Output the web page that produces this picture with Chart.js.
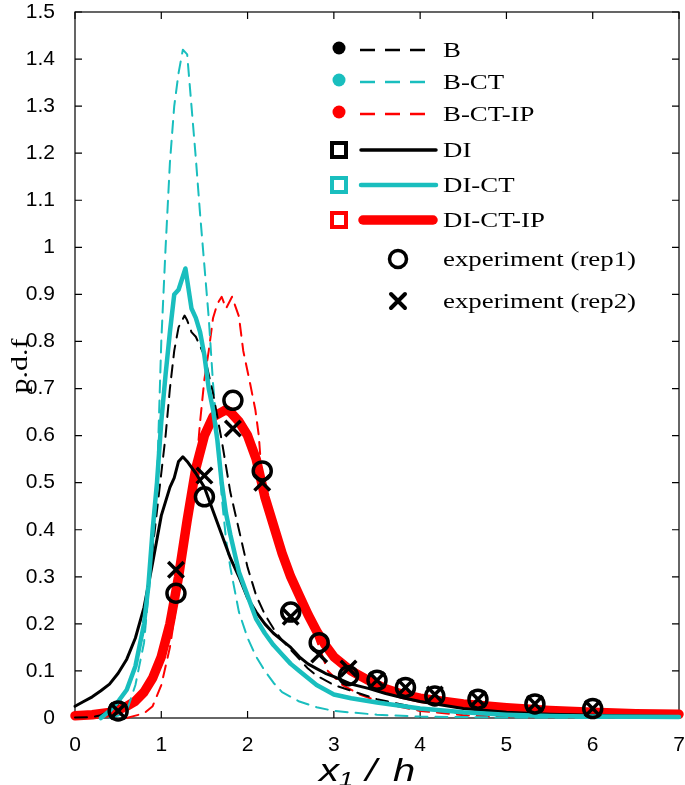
<!DOCTYPE html>
<html>
<head>
<meta charset="utf-8">
<script src="https://cdn.jsdelivr.net/npm/chart.js@4/dist/chart.umd.min.js"></script>
<style>
html,body{margin:0;padding:0;background:#fff;}
#wrap{width:685px;height:785px;position:relative;}
</style>
</head>
<body>
<div id="wrap"><canvas id="c" width="685" height="785"></canvas></div>
<script>
// ---------- data ----------
const xTicks = [0,1,2,3,4,5,6,7];
const xTickLabels = ['0','1','2','3','4','5','6','7'];
const yTicks = [0,0.1,0.2,0.3,0.4,0.5,0.6,0.7,0.8,0.9,1,1.1,1.2,1.3,1.4,1.5];
const yTickLabels = ['0','0.1','0.2','0.3','0.4','0.5','0.6','0.7','0.8','0.9','1','1.1','1.2','1.3','1.4','1.5'];

const bX = [0,0.2,0.3,0.4,0.5,0.6,0.7,0.8,0.9,1.0,1.05,1.1,1.15,1.2,1.27,1.3,1.35,1.4,1.5,1.6,1.7,1.8,1.9,2.0,2.1,2.2,2.3,2.4,2.5,2.6,2.7,2.8,3.0,3.5,4.0,4.5,5.0,6.0,7.0];
const bY = [0.001,0.002,0.006,0.015,0.03,0.06,0.11,0.19,0.36,0.52,0.6,0.7,0.78,0.83,0.855,0.845,0.82,0.81,0.77,0.69,0.59,0.48,0.4,0.32,0.26,0.22,0.19,0.165,0.145,0.125,0.105,0.09,0.07,0.04,0.02,0.01,0.006,0.003,0.001];

const bctX = [0.4,0.5,0.6,0.7,0.8,0.9,0.95,1.0,1.05,1.1,1.15,1.2,1.25,1.3,1.35,1.4,1.45,1.5,1.55,1.6,1.65,1.7,1.75,1.8,1.9,2.0,2.1,2.2,2.3,2.4,2.5,2.6,2.8,3.0,3.5,4.0,5.0,6.0,7.0];
const bctY = [0,0.005,0.015,0.07,0.16,0.36,0.5,0.8,1.0,1.18,1.3,1.37,1.42,1.41,1.3,1.19,1.07,0.96,0.85,0.71,0.6,0.47,0.38,0.32,0.225,0.17,0.13,0.1,0.075,0.055,0.045,0.035,0.023,0.015,0.007,0.003,0.001,0,0];

const bctipX = [0.6,0.7,0.8,0.9,1.0,1.1,1.2,1.3,1.4,1.45,1.5,1.55,1.6,1.65,1.7,1.75,1.82,1.9,1.95,2.03,2.09,2.13,2.17,2.25,2.35,2.45,2.55,2.65,2.8,2.93,3.1,3.3,3.6,4.0,4.5,5.0,6.0,7.0];
const bctipY = [0,0.005,0.01,0.025,0.07,0.15,0.27,0.4,0.52,0.63,0.72,0.78,0.85,0.88,0.895,0.87,0.895,0.853,0.78,0.71,0.655,0.6,0.5,0.44,0.38,0.33,0.29,0.24,0.166,0.1,0.07,0.05,0.03,0.015,0.006,0.002,0.001,0];

const diX = [0,0.1,0.2,0.3,0.4,0.5,0.6,0.7,0.8,0.9,1.0,1.1,1.15,1.2,1.25,1.3,1.4,1.5,1.6,1.7,1.8,1.9,2.0,2.1,2.2,2.3,2.4,2.5,2.6,2.7,2.8,2.9,3.0,3.2,3.4,3.6,3.8,4.0,4.5,5.0,5.5,6.0,6.5,7.0];
const diY = [0.025,0.035,0.045,0.058,0.072,0.095,0.125,0.17,0.235,0.33,0.43,0.49,0.51,0.545,0.555,0.545,0.52,0.49,0.44,0.39,0.34,0.3,0.255,0.225,0.2,0.18,0.165,0.15,0.13,0.115,0.105,0.095,0.088,0.072,0.063,0.052,0.043,0.035,0.02,0.012,0.008,0.006,0.004,0.003];

const dictX = [0.3,0.4,0.5,0.6,0.7,0.8,0.85,0.9,0.95,1.0,1.05,1.1,1.15,1.2,1.28,1.35,1.4,1.45,1.5,1.55,1.6,1.65,1.7,1.75,1.8,1.9,2.0,2.1,2.2,2.3,2.4,2.5,2.6,2.7,2.8,2.9,3.0,3.2,3.5,4.0,4.5,5.0,5.5,6.0,7.0];
const dictY = [0,0.015,0.035,0.06,0.11,0.2,0.28,0.4,0.5,0.63,0.73,0.82,0.9,0.91,0.955,0.87,0.85,0.82,0.77,0.7,0.655,0.59,0.5,0.435,0.39,0.31,0.26,0.21,0.18,0.155,0.135,0.115,0.1,0.085,0.07,0.06,0.05,0.042,0.033,0.02,0.012,0.007,0.004,0.003,0.002];

const dictipX = [0,0.2,0.4,0.5,0.6,0.7,0.8,0.9,1.0,1.1,1.2,1.3,1.4,1.5,1.6,1.7,1.75,1.8,1.9,2.0,2.1,2.2,2.3,2.4,2.5,2.6,2.7,2.8,2.9,3.0,3.2,3.4,3.6,3.8,4.0,4.5,5.0,5.5,6.0,6.5,7.0];
const dictipY = [0.005,0.007,0.012,0.017,0.025,0.036,0.055,0.085,0.13,0.2,0.3,0.42,0.53,0.6,0.64,0.65,0.655,0.65,0.63,0.6,0.55,0.47,0.41,0.35,0.3,0.26,0.22,0.185,0.155,0.13,0.1,0.08,0.062,0.05,0.042,0.03,0.022,0.016,0.012,0.009,0.008];

const expX  = [0.5,1.17,1.5,1.83,2.17,2.5,2.83,3.17,3.5,3.83,4.17,4.67,5.33,6.0];
const rep1Y = [0.015,0.265,0.47,0.675,0.525,0.225,0.16,0.09,0.08,0.065,0.047,0.04,0.03,0.02];
const rep2Y = [0.015,0.315,0.515,0.615,0.5,0.215,0.135,0.105,0.08,0.065,0.05,0.04,0.03,0.02];

const seriesLabels = ['B','B-CT','B-CT-IP','DI','DI-CT','DI-CT-IP','experiment (rep1)','experiment (rep2)'];

// ---------- styles ----------
const BLACK = '#000000';
const CYAN = 'rgb(25,190,190)';
const RED = '#ff0000';
const DASH = [12,8];

function pts(xs, ys){ return xs.map((x,i)=>({x:x, y:ys[i]})); }
function lineDs(label, xs, ys, color, width, dash, order){
  return {label, data:pts(xs,ys), showLine:true, borderColor:color, backgroundColor:color,
    borderWidth:width, borderDash:dash||[], pointRadius:0, pointHoverRadius:0, tension:0,
    borderCapStyle:'round', borderJoinStyle:'round', fill:false, order, clip:12};
}

const datasets = [
  {label:seriesLabels[6], data:pts(expX,rep1Y), showLine:false, pointStyle:'circle', pointRadius:9,
   pointBorderWidth:3.5, pointBorderColor:BLACK, pointBackgroundColor:'rgba(0,0,0,0)', order:0, clip:false},
  {label:seriesLabels[7], data:pts(expX,rep2Y), showLine:false, pointStyle:'crossRot', pointRadius:11,
   pointBorderWidth:3.5, pointBorderColor:BLACK, pointBackgroundColor:BLACK, order:0, clip:false},
  lineDs(seriesLabels[4], dictX, dictY, CYAN, 4.5, null, 2),
  lineDs(seriesLabels[3], diX, diY, BLACK, 3, null, 3),
  lineDs(seriesLabels[0], bX, bY, BLACK, 2, DASH, 4),
  lineDs(seriesLabels[1], bctX, bctY, CYAN, 2, DASH, 4),
  lineDs(seriesLabels[2], bctipX, bctipY, RED, 2, DASH, 5),
  lineDs(seriesLabels[5], dictipX, dictipY, RED, 9.5, null, 6)
];

// ---------- plugins ----------
const framePlugin = {
  id:'frame',
  beforeDatasetsDraw(chart){
    const {ctx, chartArea:a, scales} = chart;
    const xs = scales.x, ys = scales.y;
    ctx.save();
    ctx.strokeStyle = '#000'; ctx.lineWidth = 1.2;
    ctx.strokeRect(a.left, a.top, a.right-a.left, a.bottom-a.top);
    const tl = 7;
    ctx.beginPath();
    xTicks.forEach(v=>{
      const px = xs.getPixelForValue(v);
      ctx.moveTo(px, a.bottom); ctx.lineTo(px, a.bottom-tl);
      ctx.moveTo(px, a.top); ctx.lineTo(px, a.top+tl);
    });
    yTicks.forEach(v=>{
      const py = ys.getPixelForValue(v);
      ctx.moveTo(a.left, py); ctx.lineTo(a.left+tl, py);
      ctx.moveTo(a.right, py); ctx.lineTo(a.right-tl, py);
    });
    ctx.stroke();
    ctx.restore();
  },
  afterDraw(chart){
    const {ctx} = chart;
    ctx.save();
    // y title
    ctx.fillStyle = '#000';
    ctx.translate(21, 366);
    ctx.rotate(-Math.PI/2);
    ctx.scale(1.3,1);
    ctx.font = '23px "Liberation Serif"';
    ctx.textAlign = 'center'; ctx.textBaseline = 'middle';
    ctx.fillText('p.d.f', 0, 0);
    ctx.restore();
    // x title
    ctx.save();
    ctx.fillStyle = '#000';
    ctx.textBaseline = 'alphabetic'; ctx.textAlign = 'center';
    const base = 781;
    const parts = [
      {t:'x', x:329, y:base, f:'italic 32px "Liberation Sans"'},
      {t:'1', x:346, y:base+5, f:'italic 21px "Liberation Sans"'},
      {t:'/', x:371, y:base, f:'italic 32px "Liberation Sans"'},
      {t:'h', x:404, y:base, f:'italic 32px "Liberation Sans"'}
    ];
    parts.forEach(p=>{
      ctx.save();
      ctx.translate(p.x, p.y); ctx.scale(1.25,1);
      ctx.font = p.f; ctx.fillText(p.t, 0, 0);
      ctx.restore();
    });
    ctx.restore();
  }
};

const legendPlugin = {
  id:'customLegend',
  afterDraw(chart){
    const ctx = chart.ctx;
    const items = [
      {lab:seriesLabels[0], mk:'dot', c:BLACK, dash:true, w:2.5, y:50},
      {lab:seriesLabels[1], mk:'dot', c:CYAN, dash:true, w:2.5, y:82},
      {lab:seriesLabels[2], mk:'dot', c:RED, dash:true, w:2.5, y:114},
      {lab:seriesLabels[3], mk:'sq', c:BLACK, dash:false, w:3.5, y:150},
      {lab:seriesLabels[4], mk:'sq', c:CYAN, dash:false, w:4.5, y:185},
      {lab:seriesLabels[5], mk:'sq', c:RED, dash:false, w:9.5, y:220},
      {lab:seriesLabels[6], mk:'circ', c:BLACK, y:259},
      {lab:seriesLabels[7], mk:'x', c:BLACK, y:301}
    ];
    ctx.save();
    items.forEach(it=>{
      ctx.strokeStyle = it.c; ctx.fillStyle = it.c;
      if (it.mk === 'dot'){
        ctx.beginPath(); ctx.arc(339, it.y-2, 6.5, 0, Math.PI*2); ctx.fill();
      } else if (it.mk === 'sq'){
        ctx.lineWidth = 4; ctx.setLineDash([]);
        ctx.strokeRect(332, it.y-7, 14, 14);
      } else if (it.mk === 'circ'){
        ctx.lineWidth = 3.5; ctx.setLineDash([]);
        ctx.beginPath(); ctx.arc(398, it.y, 8.5, 0, Math.PI*2); ctx.stroke();
      } else if (it.mk === 'x'){
        ctx.lineWidth = 4; ctx.setLineDash([]);
        ctx.beginPath();
        ctx.moveTo(391, it.y-7); ctx.lineTo(405, it.y+7);
        ctx.moveTo(405, it.y-7); ctx.lineTo(391, it.y+7);
        ctx.stroke();
      }
      if (it.w){
        ctx.lineWidth = it.w;
        if (it.dash){ ctx.setLineDash([15,10]); ctx.lineCap='butt'; }
        else { ctx.setLineDash([]); ctx.lineCap='round'; }
        ctx.beginPath();
        const x0 = it.dash ? 360 : (it.w>5 ? 363 : 361);
        const x1 = it.dash ? 432 : (it.w>5 ? 433 : 436);
        ctx.moveTo(x0, it.y); ctx.lineTo(x1, it.y); ctx.stroke();
      }
      ctx.setLineDash([]);
      ctx.fillStyle = '#000';
      ctx.save();
      ctx.translate(443, it.y);
      ctx.scale(1.22, 1);
      ctx.font = '22px "Liberation Serif"';
      ctx.textAlign = 'left'; ctx.textBaseline = 'middle';
      ctx.fillText(it.lab, 0, 1);
      ctx.restore();
    });
    ctx.restore();
  }
};

new Chart(document.getElementById('c'), {
  type:'scatter',
  data:{datasets},
  options:{
    responsive:false, animation:false, devicePixelRatio:1,
    layout:{autoPadding:false, padding:{top:12, right:6, left:0, bottom:0}},
    plugins:{legend:{display:false}, tooltip:{enabled:false}},
    scales:{
      x:{
        type:'linear', min:0, max:7,
        afterBuildTicks:s=>{ s.ticks = xTicks.map(v=>({value:v})); },
        afterFit:s=>{ s.height = 67; s.paddingLeft = 0; s.paddingRight = 0; },
        grid:{display:false}, border:{display:false},
        ticks:{autoSkip:false, maxRotation:0, padding:7, color:'#000',
          font:{family:'"Liberation Sans"', size:21},
          callback:(v,i)=>xTickLabels[i]}
      },
      y:{
        type:'linear', min:0, max:1.5,
        afterBuildTicks:s=>{ s.ticks = yTicks.map(v=>({value:v})); },
        afterFit:s=>{ s.width = 75; s.paddingTop = 0; s.paddingBottom = 0; },
        grid:{display:false}, border:{display:false},
        ticks:{autoSkip:false, padding:12, color:'#000',
          font:{family:'"Liberation Sans"', size:21},
          callback:(v,i)=>yTickLabels[i]}
      }
    }
  },
  plugins:[framePlugin, legendPlugin]
});
</script>
</body>
</html>
